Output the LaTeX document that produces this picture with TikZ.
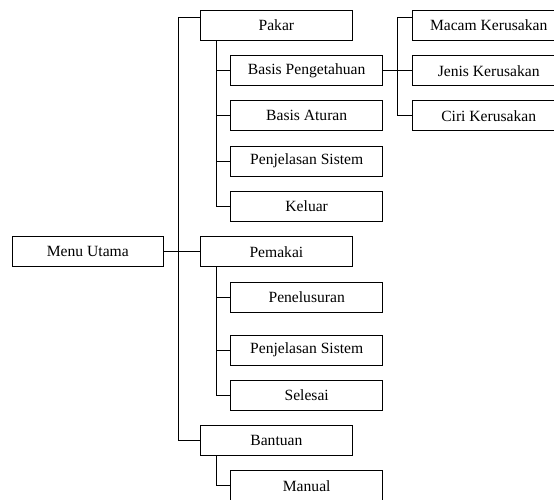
\documentclass[tikz,border=0pt]{standalone}
\usepackage{fontspec}
\setmainfont{Liberation Serif}
\begin{document}
\begin{tikzpicture}[x=1pt,y=-1pt,
  box/.style={draw=black, line width=0.9pt, minimum width=152pt, minimum height=30pt, inner sep=0pt,
    font=\fontsize{15.6}{18}\selectfont},
  conn/.style={draw=black, line width=0.9pt}]
\useasboundingbox (0,0) rectangle (554,500);
\clip (0,0) rectangle (554,500);
% nodes
\node[box, minimum width=151pt] (menu) at (87.8,251.8) {Menu Utama};
\node[box] (pakar) at (276.4,25) {Pakar};
\node[box] (bp) at (306.7,70.7) {Basis Pengetahuan};
\node[box] (ba) at (306.7,115.7) {Basis Aturan};
\node[box] (ps1) at (306.7,161) {Penjelasan Sistem};
\node[box] (keluar) at (306.7,206) {Keluar};
\node[box] (pemakai) at (276.4,251.8) {Pemakai};
\node[box] (penelusuran) at (306.7,297) {Penelusuran};
\node[box] (ps2) at (306.7,350) {Penjelasan Sistem};
\node[box] (selesai) at (306.7,395.5) {Selesai};
\node[box] (bantuan) at (276.4,440.7) {Bantuan};
\node[box] (manual) at (306.7,485.7) {Manual};
\node[box] (macam) at (488.7,25) {Macam Kerusakan};
\node[box] (jenis) at (488.7,70.7) {Jenis Kerusakan};
\node[box] (ciri) at (488.7,115.7) {Ciri Kerusakan};
% trunk
\coordinate (ta) at (178.3,17.3);
\coordinate (tb) at (178.3,440.7);
\coordinate (pa) at (216.3,0);
\coordinate (ra) at (397.7,17.3);
\draw[conn] (ta -| pakar.west) -- (ta) -- (tb) -- (bantuan.west);
\draw[conn] (menu.east) -- (pemakai.west);
% pakar subtree
\draw[conn] (pa |- pakar.south) -- (pa |- keluar.west) -- (keluar.west);
\foreach \n in {bp,ba,ps1} \draw[conn] (pa |- \n.west) -- (\n.west);
% pemakai subtree
\draw[conn] (pa |- pemakai.south) -- (pa |- selesai.west) -- (selesai.west);
\foreach \n in {penelusuran,ps2} \draw[conn] (pa |- \n.west) -- (\n.west);
% bantuan subtree
\draw[conn] (pa |- bantuan.south) -- (pa |- manual.west) -- (manual.west);
% basis pengetahuan subtree
\draw[conn] (macam.west |- ra) -- (ra) -- (ra |- ciri.west) -- (ciri.west);
\draw[conn] (bp.east) -- (jenis.west);
\end{tikzpicture}
\end{document}
